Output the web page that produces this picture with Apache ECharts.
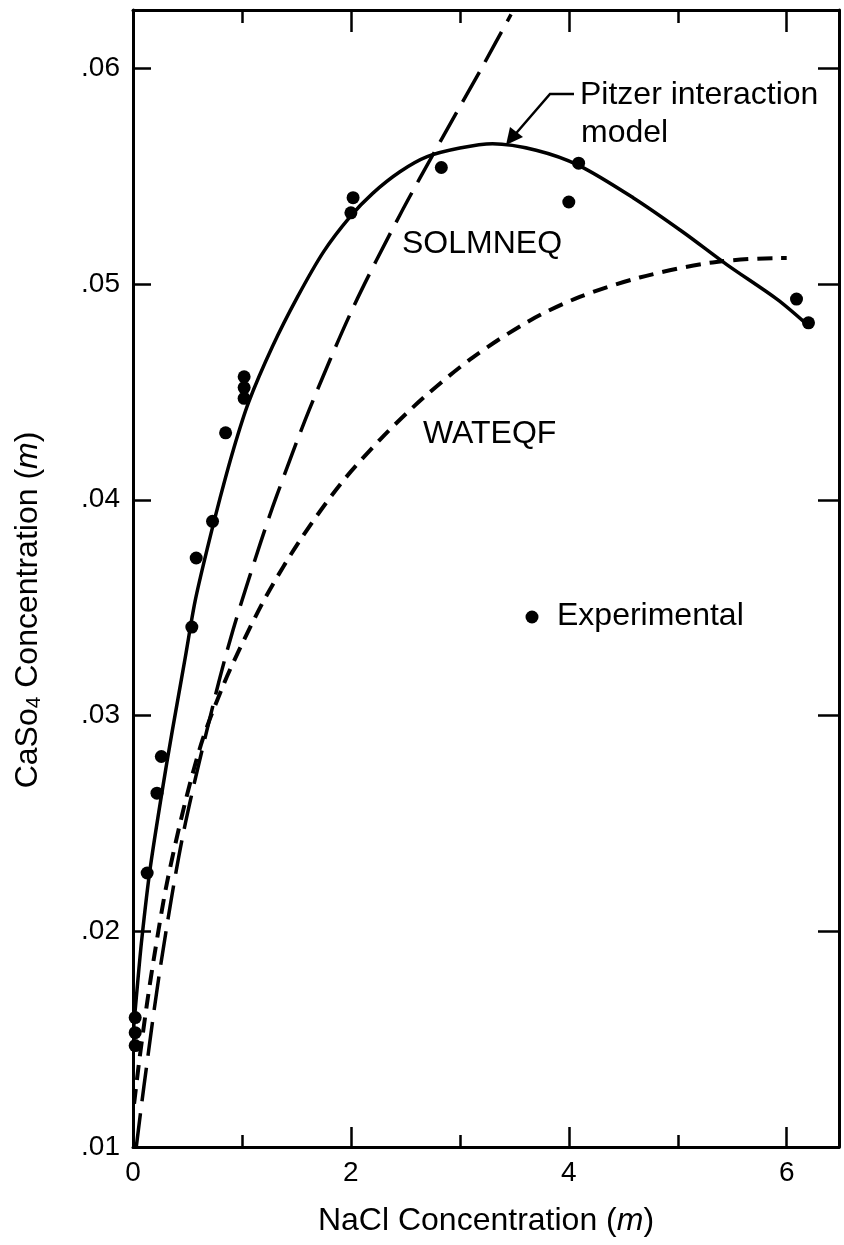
<!DOCTYPE html>
<html>
<head>
<meta charset="utf-8">
<script src="https://cdn.jsdelivr.net/npm/echarts@6/dist/echarts.min.js"></script>
<style>
  html, body { margin: 0; padding: 0; background: #fff; }
  #chart { width: 844px; height: 1245px; }
</style>
</head>
<body>
<div id="chart"></div>
<script>
// NaCl concentration (m) vs CaSO4 concentration (m)

// experimental points
const expX = [0.02, 0.02, 0.02, 0.13, 0.22, 0.26, 0.54, 0.58, 0.73, 0.85, 1.02, 1.02, 1.02, 2.0, 2.02, 2.83, 4.0, 4.09, 6.09, 6.2];
const expY = [0.0160, 0.0153, 0.0147, 0.0227, 0.0264, 0.0281, 0.0341, 0.0373, 0.0390, 0.0431, 0.0457, 0.0452, 0.0447, 0.0533, 0.0540, 0.0554, 0.0538, 0.0556, 0.0493, 0.0482];

// Pitzer interaction model (solid)
const pitzerX = [0, 0.03, 0.08, 0.16, 0.31, 0.41, 0.48, 0.57, 0.68, 0.80, 0.92, 1.06, 1.28, 1.51, 1.75, 1.99, 2.2, 2.45, 2.7, 3.0, 3.3, 3.7, 4.09, 4.59, 5.05, 5.45, 5.91, 6.17];
const pitzerY = [0.0152, 0.0169, 0.0196, 0.0230, 0.0278, 0.0307, 0.0327, 0.0353, 0.0377, 0.0401, 0.0423, 0.0445, 0.0471, 0.0494, 0.0515, 0.0531, 0.0542, 0.0552, 0.0559, 0.0563, 0.0565, 0.0562, 0.0555, 0.0540, 0.0524, 0.0509, 0.0493, 0.0482];

// SOLMNEQ (long dash)
const solmneqX = [0.03, 0.1, 0.25, 0.46, 0.75, 0.92, 1.17, 1.32, 1.62, 2.02, 2.45, 2.82, 3.21, 3.47];
const solmneqY = [0.0100, 0.0128, 0.0183, 0.0245, 0.0308, 0.0340, 0.0380, 0.0402, 0.0442, 0.0489, 0.0532, 0.0566, 0.0601, 0.0625];

// WATEQF (short dash)
const wateqfX = [0.01, 0.06, 0.13, 0.2, 0.31, 0.48, 0.64, 0.82, 0.98, 1.23, 1.53, 1.9, 2.27, 2.66, 3.12, 3.64, 4.1, 4.65, 5.32, 5.94, 6.0];
const wateqfY = [0.0120, 0.0141, 0.0167, 0.0190, 0.0222, 0.0260, 0.0289, 0.0313, 0.0331, 0.0356, 0.0381, 0.0407, 0.0428, 0.0447, 0.0466, 0.0483, 0.0494, 0.0503, 0.0510, 0.0512, 0.0512];

const FONT = 'Liberation Sans, Arial, Helvetica, sans-serif';

function pairs(xs, ys) {
  return xs.map((x, i) => [x, ys[i]]);
}

const chart = echarts.init(document.getElementById('chart'));

const axisLine = { show: true, onZero: false, lineStyle: { color: '#000', width: 3 } };
const tickStyle = { color: '#000', width: 2.5 };

const option = {
  backgroundColor: '#fff',
  animation: false,
  grid: { left: 133, right: 5, top: 10, bottom: 98 },
  xAxis: [
    {
      type: 'value', position: 'bottom', min: 0, max: 6.48, interval: 2,
      axisLine: axisLine,
      axisTick: { show: true, inside: true, length: 20, lineStyle: tickStyle },
      minorTick: { show: true, splitNumber: 2, length: 12, lineStyle: tickStyle },
      splitLine: { show: false },
      axisLabel: { margin: 12, fontSize: 28, fontFamily: FONT, color: '#000', showMaxLabel: false },
      name: 'NaCl Concentration ({it|m})',
      nameLocation: 'middle',
      nameGap: 58,
      nameTextStyle: {
        fontSize: 32, fontFamily: FONT, color: '#000',
        rich: { it: { fontSize: 32, fontFamily: FONT, fontStyle: 'italic', color: '#000' } }
      }
    },
    {
      type: 'value', position: 'top', min: 0, max: 6.48, interval: 2,
      axisLine: axisLine,
      axisTick: { show: true, inside: true, length: 22, lineStyle: tickStyle },
      minorTick: { show: true, splitNumber: 2, length: 13, lineStyle: tickStyle },
      splitLine: { show: false },
      axisLabel: { show: false }
    }
  ],
  yAxis: [
    {
      type: 'value', position: 'left', min: 0.01, max: 0.0627, interval: 0.01,
      axisLine: axisLine,
      axisTick: { show: true, inside: true, length: 18, lineStyle: tickStyle },
      splitLine: { show: false },
      axisLabel: {
        margin: 13, fontSize: 28, fontFamily: FONT, color: '#000', showMaxLabel: false,
        formatter: v => v.toFixed(2).replace('0.', '.')
      }
    },
    {
      type: 'value', position: 'right', min: 0.01, max: 0.0627, interval: 0.01,
      axisLine: axisLine,
      axisTick: { show: true, inside: true, length: 21, lineStyle: tickStyle },
      splitLine: { show: false },
      axisLabel: { show: false }
    }
  ],
  series: [
    {
      name: 'Pitzer interaction model',
      type: 'line',
      data: pairs(pitzerX, pitzerY),
      smooth: 0.3,
      showSymbol: false,
      lineStyle: { color: '#000', width: 3.5 },
      z: 3
    },
    {
      name: 'SOLMNEQ',
      type: 'line',
      data: pairs(solmneqX, solmneqY),
      smooth: 0.3,
      showSymbol: false,
      lineStyle: { color: '#000', width: 3.5, type: [34, 12] },
      z: 2
    },
    {
      name: 'WATEQF',
      type: 'line',
      data: pairs(wateqfX, wateqfY),
      smooth: 0.3,
      showSymbol: false,
      lineStyle: { color: '#000', width: 4, type: [15, 9] },
      z: 2
    },
    {
      name: 'Experimental',
      type: 'scatter',
      data: pairs(expX, expY),
      symbol: 'circle',
      symbolSize: 13,
      itemStyle: { color: '#000', opacity: 1 },
      z: 4
    }
  ],
  graphic: [
    {
      type: 'text', x: 28, y: 610, rotation: Math.PI / 2,
      style: {
        text: 'CaSo{sub|4} Concentration ({it|m})',
        fontSize: 32, fontFamily: FONT, fill: '#000', align: 'center', verticalAlign: 'middle',
        rich: {
          sub: { fontSize: 21, fontFamily: FONT, fill: '#000', lineHeight: 20, verticalAlign: 'bottom' },
          it: { fontSize: 32, fontFamily: FONT, fontStyle: 'italic', fill: '#000', lineHeight: 34 }
        }
      }
    },
    { type: 'text', x: 580, y: 95, style: { text: 'Pitzer interaction', fontSize: 32, fontFamily: FONT, fill: '#000', verticalAlign: 'middle' } },
    { type: 'text', x: 581, y: 133, style: { text: 'model', fontSize: 32, fontFamily: FONT, fill: '#000', verticalAlign: 'middle' } },
    { type: 'polyline', shape: { points: [[574, 94], [550, 94], [512, 138]] }, style: { stroke: '#000', lineWidth: 2.5, fill: null } },
    { type: 'polygon', shape: { points: [[506, 145], [510, 127], [523, 137]] }, style: { fill: '#000' } },
    { type: 'text', x: 402, y: 244, style: { text: 'SOLMNEQ', fontSize: 32, fontFamily: FONT, fill: '#000', verticalAlign: 'middle' } },
    { type: 'text', x: 423, y: 434, style: { text: 'WATEQF', fontSize: 32, fontFamily: FONT, fill: '#000', verticalAlign: 'middle' } },
    { type: 'circle', shape: { cx: 532, cy: 617, r: 6.5 }, style: { fill: '#000' } },
    { type: 'text', x: 557, y: 616, style: { text: 'Experimental', fontSize: 32, fontFamily: FONT, fill: '#000', verticalAlign: 'middle' } }
  ]
};

chart.setOption(option);
</script>
</body>
</html>
